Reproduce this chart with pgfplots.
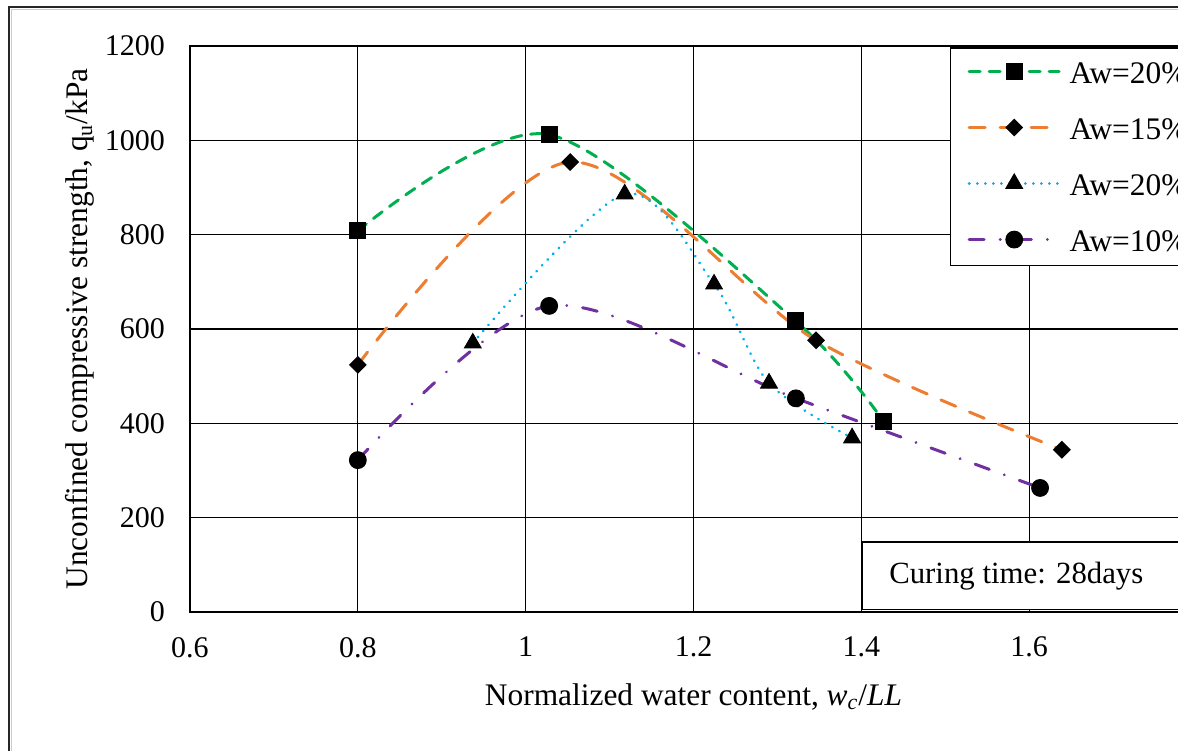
\documentclass[border=0pt]{standalone}
\usepackage{fontspec}
\setmainfont{Liberation Serif}
\usepackage{pgfplots}
\pgfplotsset{compat=1.18}
\definecolor{cgreen}{RGB}{0,176,80}
\definecolor{corange}{RGB}{237,125,49}
\definecolor{cblue}{RGB}{0,176,240}
\definecolor{cpurple}{RGB}{112,48,160}
\begin{document}
\begin{tikzpicture}[x=1pt,y=1pt]
\useasboundingbox (0,0) rectangle (589,375);
\clip (0,0) rectangle (589,375);
\fill[white] (0,0) rectangle (589,375);
\draw[line width=1pt, black!85] (4.5,-5) -- (4.5,371.5) -- (600,371.5);
\draw[line width=0.6pt, black!20] (5.8,-5) -- (5.8,370.2) -- (600,370.2);
\begin{axis}[
  at={(95pt,69pt)}, anchor=south west,
  scale only axis, width=503.5pt, height=283pt,
  xmin=0.6, xmax=1.8, ymin=0, ymax=1200,
  xtick={0.6,0.8,1,1.2,1.4,1.6},
  extra x ticks={1.8}, extra x tick labels={},
  ytick={0,200,400,600,800,1000,1200},
  major tick length=0pt,
  grid=major,
  grid style={line width=0.6pt, black},
  axis line style={line width=1.2pt, black},
  tick label style={font=\fontsize{15}{17}\selectfont},
  label style={font=\fontsize{15.7}{18}\selectfont},
  /pgf/number format/.cd, 1000 sep={}, assume math mode=true,
  /pgfplots/.cd,
  yticklabel style={xshift=-9pt},
  xticklabel style={yshift=-9pt},
  xlabel={Normalized water content, \textit{w\textsubscript{c}}/\textit{LL}},
  ylabel={Unconfined compressive strength, q\textsubscript{u}/kPa},
  xlabel style={at={(axis description cs:0.5,-0.150)}, anchor=center},
  ylabel style={at={(axis description cs:-0.109,0.5)}, anchor=center},
  legend style={at={(axis description cs:0.7547,0.998)}, anchor=north west,
    draw=black, line width=0.75pt, fill=white,
    inner xsep=8.5pt, inner ysep=6pt,
    nodes={inner sep=0pt, text height=12pt, text depth=0.7pt},
    row sep=15.3pt, column sep=4.5pt,
    font=\fontsize{15.7}{18}\selectfont},
  legend cell align=left,
  legend image code/.code={
    \draw[mark repeat=2,mark phase=2,#1] plot coordinates {(0pt,0.5pt) (22.5pt,0.5pt) (45pt,0.5pt)};
  },
  every axis plot/.append style={line width=1.5pt, line cap=round, smooth, tension=0.5},
]
\addplot[color=cgreen, dash pattern=on 5.5pt off 4.5pt, mark=square*, mark size=4pt,
  mark options={solid, fill=black, draw=black, line width=0.5pt}]
  coordinates {(0.8,808) (1.028,1012) (1.321,618) (1.427,403)};
\addlegendentry{Aw=20\%}
\addplot[color=corange, dash pattern=on 8pt off 7.5pt, mark=square*, mark size=2.9pt,
  mark options={solid, fill=black, draw=black, line width=0.5pt, rotate=45}]
  coordinates {(0.8,524) (1.053,954) (1.346,576) (1.639,344)};
\addlegendentry{Aw=15\%}
\addplot[color=cblue, dash pattern=on 0.01pt off 4pt, mark=triangle*, mark size=4.8pt,
  mark options={solid, fill=black, draw=black, line width=0.5pt}]
  coordinates {(0.937,570) (1.118,886) (1.2245,695) (1.29,485) (1.389,369)};
\addlegendentry{Aw=20\%}
\addplot[color=cpurple, dash pattern=on 7.5pt off 8pt on 0.01pt off 8pt, mark=*, mark size=4.2pt,
  mark options={solid, fill=black, draw=black, line width=0.5pt}]
  coordinates {(0.8,322) (1.028,649) (1.322,453) (1.613,263)};
\addlegendentry{Aw=10\%}
\draw[line width=0.75pt, fill=white] (axis description cs:0.668,0.004) rectangle (axis description cs:1.2,0.124);
\node[anchor=west, inner sep=0pt, font=\fontsize{15.4}{18}\selectfont] at (axis description cs:0.694,0.064) {Curing time: 28days};
\end{axis}
\end{tikzpicture}
\end{document}
